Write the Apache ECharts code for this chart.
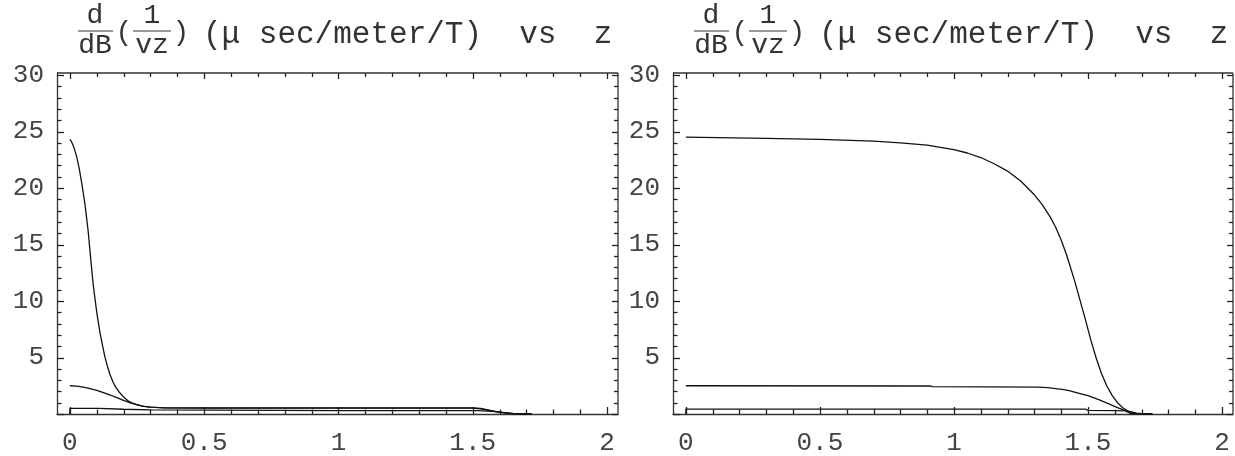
<!DOCTYPE html>
<html>
<head>
<meta charset="utf-8">
<script src="https://cdn.jsdelivr.net/npm/echarts@6/dist/echarts.min.js"></script>
<style>
html,body{margin:0;padding:0;background:#fff;}
#c{width:1235px;height:456px;}
</style>
</head>
<body>
<div id="c"></div>
<script>
// ---------- data ----------
const xTickLabels = [0, 0.5, 1, 1.5, 2];
const xMinorTicks = [0,0.1,0.2,0.3,0.4,0.5,0.6,0.7,0.8,0.9,1,1.1,1.2,1.3,1.4,1.5,1.6,1.7,1.8,1.9,2];
const yTickLabels = [5, 10, 15, 20, 25, 30];
const yMajorTicks = [0, 5, 10, 15, 20, 25, 30];
const yMinorTicks = [0,1,2,3,4,5,6,7,8,9,10,11,12,13,14,15,16,17,18,19,20,21,22,23,24,25,26,27,28,29,30];

// left panel
const leftA_z = [0, 0.006, 0.015, 0.025, 0.035, 0.045, 0.056, 0.068, 0.078, 0.087, 0.1, 0.112, 0.122, 0.13, 0.14, 0.15, 0.16, 0.17, 0.185, 0.2, 0.215, 0.23, 0.25, 0.27, 0.3, 0.32, 0.36, 0.5, 1.0, 1.5, 1.53, 1.56, 1.6, 1.65, 1.7, 1.72];
const leftA_v = [24.3, 24.1, 23.6, 22.8, 21.7, 20.3, 18.6, 16.2, 13.6, 11.4, 9.0, 7.2, 6.0, 5.1, 4.2, 3.45, 2.85, 2.4, 1.9, 1.5, 1.2, 0.98, 0.8, 0.7, 0.61, 0.58, 0.55, 0.55, 0.55, 0.55, 0.5, 0.35, 0.15, 0.05, 0.01, 0];
const leftB_z = [0, 0.025, 0.05, 0.075, 0.1, 0.125, 0.15, 0.175, 0.2, 0.225, 0.25, 0.275, 0.3, 0.35, 0.5, 1.0, 1.5, 1.53, 1.56, 1.6, 1.65, 1.7];
const leftB_v = [2.5, 2.47, 2.38, 2.25, 2.1, 1.9, 1.68, 1.45, 1.2, 0.98, 0.82, 0.68, 0.6, 0.55, 0.52, 0.52, 0.52, 0.46, 0.33, 0.14, 0.04, 0];
const leftC_z = [0, 0, 0.11, 0.11, 0.2, 0.2, 0.3, 0.3, 1.0, 1.52, 1.6, 1.65, 1.72];
const leftC_v = [0, 0.5, 0.5, 0.42, 0.42, 0.36, 0.36, 0.3, 0.3, 0.3, 0.18, 0.02, 0];

// right panel
const rightA_z = [0, 0.3, 0.5, 0.7, 0.8, 0.9, 1.0, 1.05, 1.1, 1.15, 1.2, 1.25, 1.3, 1.33, 1.36, 1.38, 1.4, 1.42, 1.45, 1.47, 1.49, 1.51, 1.53, 1.55, 1.57, 1.59, 1.61, 1.63, 1.65, 1.68, 1.71, 1.74];
const rightA_v = [24.5, 24.4, 24.3, 24.15, 24.0, 23.8, 23.4, 23.1, 22.7, 22.15, 21.5, 20.6, 19.4, 18.5, 17.4, 16.5, 15.4, 14.1, 11.8, 10.1, 8.4, 6.6, 5.0, 3.6, 2.5, 1.65, 1.0, 0.55, 0.25, 0.08, 0.02, 0];
const rightB_z = [0, 0.91, 0.92, 1.31, 1.35, 1.38, 1.41, 1.43, 1.46, 1.5, 1.54, 1.58, 1.61, 1.64, 1.68, 1.74];
const rightB_v = [2.5, 2.48, 2.42, 2.38, 2.33, 2.25, 2.15, 2.06, 1.88, 1.62, 1.27, 0.88, 0.57, 0.29, 0.06, 0];
const rightC_z = [0, 0, 1.49, 1.5, 1.6, 1.64, 1.66, 1.74];
const rightC_v = [0, 0.44, 0.44, 0.32, 0.3, 0.28, 0.02, 0];

// ---------- helpers ----------
function pairs(zs, vs){ return zs.map((z,i)=>[z, vs[i]]); }
const FONT = "'Courier New', 'Liberation Mono', monospace";
const frameColor = '#333';
const labelColor = '#444';
const xMin = -0.048, xMax = 2.041, yMin = 0, yMax = 30.18;

function xAxis(gridIndex){
  return {type:'value', gridIndex, min:xMin, max:xMax, splitLine:{show:false}, position:'bottom',
    axisLine:{show:true, onZero:false, lineStyle:{color:frameColor,width:1.3}},
    axisTick:{show:false},
    axisLabel:{show:true, customValues:xTickLabels, margin:16, color:labelColor, fontFamily:FONT, fontSize:26,
      formatter:v=>String(v)}};
}
function yAxis(gridIndex){
  return {type:'value', gridIndex, min:yMin, max:yMax, splitLine:{show:false}, position:'left',
    axisLine:{show:true, onZero:false, lineStyle:{color:frameColor,width:1.3}},
    axisTick:{show:false},
    axisLabel:{show:true, customValues:yTickLabels, margin:13, color:labelColor, fontFamily:FONT, fontSize:26,
      formatter:v=>String(v)}};
}
// frame top/right edges and inward ticks drawn via custom series using the axis scales
function frameSeries(gi){
  return {type:'custom', xAxisIndex:gi, yAxisIndex:gi, silent:true, animation:false, clip:false, z:3,
    data:[[0,0]],
    renderItem:function(params, api){
      const cs = params.coordSys;
      const L = cs.x, T = cs.y, R = cs.x + cs.width, B = cs.y + cs.height;
      const st = {stroke:'#222', lineWidth:1.3};
      const kids = [
        {type:'line', shape:{x1:L, y1:T, x2:R, y2:T}, style:{stroke:frameColor, lineWidth:1.3}},
        {type:'line', shape:{x1:R, y1:T, x2:R, y2:B}, style:{stroke:frameColor, lineWidth:1.3}}
      ];
      xMinorTicks.forEach(v=>{
        const px = Math.round(api.coord([v, 0])[0]) + 0.5;
        const major = xTickLabels.some(m=>Math.abs(m-v)<1e-9);
        const lb = major ? 7 : 4.5, lt = major ? 6 : 4;
        kids.push({type:'line', shape:{x1:px, y1:B, x2:px, y2:B-lb}, style:st});
        kids.push({type:'line', shape:{x1:px, y1:T, x2:px, y2:T+lt}, style:st});
      });
      yMinorTicks.forEach(v=>{
        const py = Math.round(api.coord([0, v])[1]) + 0.5;
        const major = yMajorTicks.indexOf(v) >= 0;
        const ll = major ? 7 : 4.5, lr = major ? 6 : 4;
        kids.push({type:'line', shape:{x1:L, y1:py, x2:L+ll, y2:py}, style:st});
        kids.push({type:'line', shape:{x1:R, y1:py, x2:R-lr, y2:py}, style:st});
      });
      return {type:'group', children:kids};
    }
  };
}
function line(data, gi){
  return {type:'line', xAxisIndex:gi, yAxisIndex:gi, data, showSymbol:false, symbol:'none',
    smooth:false, lineStyle:{color:'#111', width:1.3}, silent:true, animation:false};
}
function titleGraphics(dx){
  const t = (text, x, y, size, align) => ({type:'text', x:x+dx, y,
    style:{text, fill:'#333', font:`${size}px ${FONT}`, textAlign:align||'center', textVerticalAlign:'middle'}});
  const l = (x1, x2, y) => ({type:'line', shape:{x1:x1+dx, y1:y, x2:x2+dx, y2:y}, style:{stroke:'#333', lineWidth:1.2}});
  return [
    t('d', 95, 16, 28), l(78, 113, 31), t('dB', 95, 46, 28),
    t('(', 124, 33, 28),
    t('1', 152, 16, 28), l(133, 171, 31), t('vz', 152, 46, 28),
    t(')', 181, 33, 28),
    t('(\u03bc sec/meter/T)  vs  z', 203, 35, 31, 'left')
  ];
}

const chart = echarts.init(document.getElementById('c'), null, {renderer:'canvas'});
chart.setOption({
  backgroundColor:'#fff',
  animation:false,
  grid:[
    {left:57, top:73, width:561, height:348.7, containLabel:false},
    {left:673, top:73, width:560, height:348.7, containLabel:false}
  ],
  xAxis: [xAxis(0), xAxis(1)],
  yAxis: [yAxis(0), yAxis(1)],
  series:[
    frameSeries(0), frameSeries(1),
    line(pairs(leftA_z, leftA_v), 0),
    line(pairs(leftB_z, leftB_v), 0),
    line(pairs(leftC_z, leftC_v), 0),
    line(pairs(rightA_z, rightA_v), 1),
    line(pairs(rightB_z, rightB_v), 1),
    line(pairs(rightC_z, rightC_v), 1)
  ],
  graphic: titleGraphics(0).concat(titleGraphics(616))
});
</script>
</body>
</html>
